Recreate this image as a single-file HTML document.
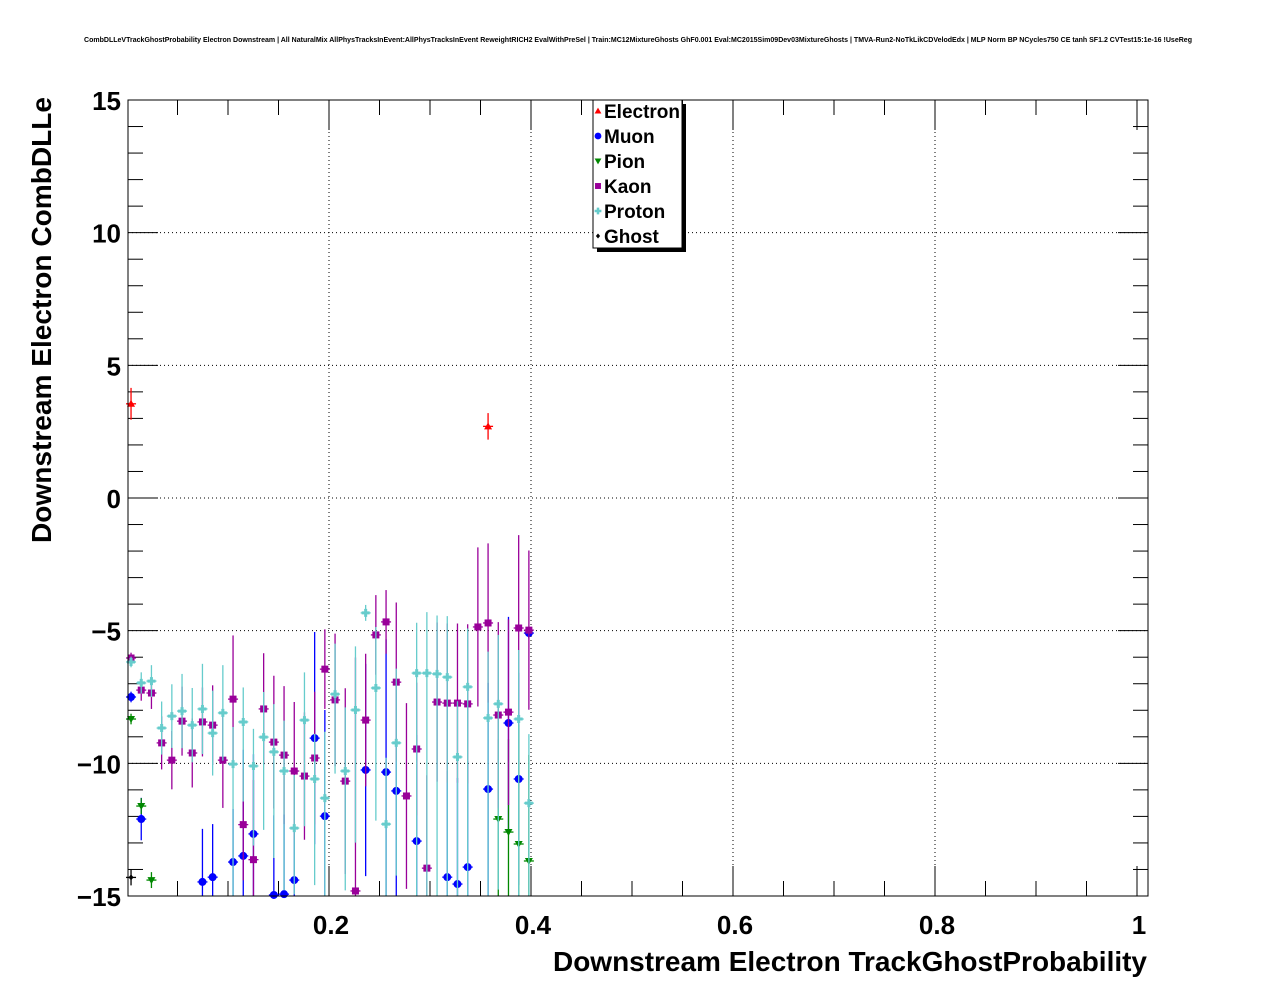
<!DOCTYPE html>
<html><head><meta charset="utf-8"><style>
html,body{margin:0;padding:0;background:#fff}
svg{display:block;font-family:"Liberation Sans",Arial,sans-serif}
</style></head><body>
<svg id="chart" width="1276" height="996" viewBox="0 0 1276 996" xmlns="http://www.w3.org/2000/svg">
<rect width="1276" height="996" fill="#fff"/>
<text x="638" y="42" font-size="7.1" font-weight="bold" text-anchor="middle" textLength="1108" lengthAdjust="spacingAndGlyphs">CombDLLeVTrackGhostProbability Electron Downstream | All NaturalMix AllPhysTracksInEvent:AllPhysTracksInEvent ReweightRICH2 EvalWithPreSel | Train:MC12MixtureGhosts GhF0.001 Eval:MC2015Sim09Dev03MixtureGhosts | TMVA-Run2-NoTkLikCDVelodEdx | MLP Norm BP NCycles750 CE tanh SF1.2 CVTest15:1e-16 !UseReg</text>
<g id="grid"></g>
<g id="axes"></g>
<g id="marks"></g>
<rect x="128" y="100" width="1020" height="796" fill="none" stroke="#000" stroke-width="1"/>
<text transform="translate(51,320) rotate(-90)" font-size="28" font-weight="bold" text-anchor="middle" textLength="446" lengthAdjust="spacingAndGlyphs">Downstream Electron CombDLLe</text>
<text x="1147" y="971" font-size="28" font-weight="bold" text-anchor="end" textLength="594" lengthAdjust="spacingAndGlyphs">Downstream Electron TrackGhostProbability</text>
<g id="legend"></g>
</svg>
<script>
const xTicks=[0.2,0.4,0.6,0.8,1];
const xTickLabels=["0.2","0.4","0.6","0.8","1"];
const yTicks=[-15,-10,-5,0,5,10,15];
const yTickLabels=["\u221215","\u221210","\u22125","0","5","10","15"];
const binCenters=[0.004,0.0141,0.0242,0.0343,0.0444,0.0545,0.0646,0.0747,0.0848,0.0949,0.105,0.1151,0.1252,0.1353,0.1454,0.1555,0.1656,0.1757,0.1858,0.1959,0.206,0.2161,0.2262,0.2363,0.2464,0.2565,0.2666,0.2767,0.2868,0.2969,0.307,0.3171,0.3272,0.3373,0.3474,0.3575,0.3676,0.3777,0.3878,0.3979];
const electronY=[3.55,null,null,null,null,null,null,null,null,null,null,null,null,null,null,null,null,null,null,null,null,null,null,null,null,null,null,null,null,null,null,null,null,null,null,2.7,null,null,null,null];
const electronErr=[0.6,0,0,0,0,0,0,0,0,0,0,0,0,0,0,0,0,0,0,0,0,0,0,0,0,0,0,0,0,0,0,0,0,0,0,0.5,0,0,0,0];
const muonY=[-7.5,-12.1,null,null,null,null,null,-14.47,-14.29,null,-13.72,-13.49,-12.66,null,-14.96,-14.93,-14.4,null,-9.05,-11.99,null,null,null,-10.25,null,-10.33,-11.04,null,-12.93,null,null,-14.29,-14.55,-13.91,null,-10.97,null,-8.48,-10.59,-5.09];
const muonErr=[0.2,0.8,0,0,0,0,0,2,2,0,2,4,3,0,3,3,2,0,4,4,0,0,0,4,0,5,4,0,4,0,0,4,4,4,0,4,0,4,4,0.2];
const pionY=[-8.33,-11.61,-14.4,null,null,null,null,null,null,null,null,null,null,null,null,null,null,null,null,null,null,null,null,null,null,null,null,null,null,null,null,null,null,null,null,null,-12.1,-12.59,-13.04,-13.68];
const pionErr=[0.2,0.3,0.3,0,0,0,0,0,0,0,0,0,0,0,0,0,0,0,0,0,0,0,0,0,0,0,0,0,0,0,0,0,0,0,0,0,3,3.5,4.5,4];
const kaonY=[-6.03,-7.24,-7.35,-9.23,-9.88,-8.41,-9.61,-8.44,-8.56,-9.88,-7.58,-12.31,-13.63,-7.95,-9.2,-9.69,-10.29,-10.48,-9.8,-6.45,-7.61,-10.67,-14.81,-8.37,-5.16,-4.67,-6.94,-11.23,-9.46,-13.95,-7.69,-7.73,-7.73,-7.76,-4.86,-4.71,-8.18,-8.07,-4.9,-4.98];
const kaonErrUp=[0.2,0.4,0.6,1.0,1.1,1.3,1.3,1.3,1.5,1.8,2.4,2.1,3,2.1,2.5,2.6,2.6,2.4,2.5,1.5,2.5,3.5,8.8,2.5,1.5,1.2,3,3.5,2.5,3.5,3,3,3,3,3,3,3.5,3.5,3.5,3];
const kaonErrDown=[0.2,0.4,0.6,1.0,1.1,1.3,1.3,1.3,1.5,1.8,2.4,2.1,3,2.1,2.5,2.6,2.6,2.4,2.5,1.5,2.5,3.5,0.3,2.5,1.5,1.2,3,3.5,2.5,3.5,3,3,3,3,3,3,3.5,3.5,3.5,3];
const protonY=[-6.18,-6.97,-6.9,-8.67,-8.22,-8.03,-8.56,-7.95,-8.86,-8.1,-10.03,-8.44,-10.1,-9.01,-9.57,-10.29,-12.44,-8.37,-10.59,-11.31,-7.39,-10.29,-7.99,-4.33,-7.16,-12.29,-9.23,null,-6.6,-6.6,-6.63,-6.75,-9.76,-7.12,null,-8.29,-7.76,null,-8.33,-11.5];
const protonErrUp=[0.2,0.4,0.6,1.0,1.2,1.4,1.4,1.7,1.6,1.8,1.4,1.3,1.4,1.7,1.8,1.9,2.0,1.8,1.7,2.5,1.9,2.4,2.4,0.3,2.3,2.5,2.8,0,1.9,2.3,2.2,2.3,2.1,2.2,0,2.5,2.6,0,2.6,2.6];
const protonErrDown=[0.2,0.4,0.6,1.0,1.2,1.4,1.4,1.7,1.6,1.8,5,3,3,3.5,4,4.5,2.5,4,4,4,3,4.5,5,0.3,5,3,5,0,9,9,9,9,6,8,0,7,7,0,7,4];
const ghostY=[-14.3,null,null,null,null,null,null,null,null,null,null,null,null,null,null,null,null,null,null,null,null,null,null,null,null,null,null,null,null,null,null,null,null,null,null,null,null,null,null,null];
const ghostErr=[0.3,0,0,0,0,0,0,0,0,0,0,0,0,0,0,0,0,0,0,0,0,0,0,0,0,0,0,0,0,0,0,0,0,0,0,0,0,0,0,0];

const NS="http://www.w3.org/2000/svg";
const L=128,R=1148,T=100,B=896,X0=127,XS=1010;
const xPix=v=>X0+v*XS;
const yPix=v=>T+(15-v)/30*(B-T);
function mk(tag,attrs,parent){const e=document.createElementNS(NS,tag);for(const k in attrs)e.setAttribute(k,attrs[k]);parent.appendChild(e);return e;}
const grid=document.getElementById('grid'),axes=document.getElementById('axes'),marks=document.getElementById('marks'),legend=document.getElementById('legend');
xTicks.forEach((v,i)=>{
  if(v<1){const g=mk('line',{x1:xPix(v),x2:xPix(v),y1:T,y2:B,stroke:'#000','stroke-width':1,'stroke-dasharray':'1,3'},grid);
  
  }
  const t=mk('text',{x:xPix(v)+2,y:934,'font-size':26,'font-weight':'bold','text-anchor':'middle'},axes);
  t.textContent=xTickLabels[i];
  
  
});
yTicks.forEach((v,i)=>{
  if(v>-15&&v<15){const g=mk('line',{x1:L,x2:R,y1:yPix(v),y2:yPix(v),stroke:'#000','stroke-width':1,'stroke-dasharray':'1,3'},grid);
  
  }
  const t=mk('text',{x:121,y:yPix(v)+10,'font-size':26,'font-weight':'bold','text-anchor':'end'},axes);
  t.textContent=yTickLabels[i];
  
  
});
for(let k=1;k<21;k++){const v=k*0.05;const px=xPix(v);if(px>=R)break;const len=(k%4==0)?30:15;
  mk('line',{x1:px,x2:px,y1:B,y2:B-len,stroke:'#000'},axes);mk('line',{x1:px,x2:px,y1:T,y2:T+len,stroke:'#000'},axes);}
for(let v=-15;v<=15;v++){const len=(v%5==0)?30:15;const py=yPix(v);
  mk('line',{x1:L,x2:L+len,y1:py,y2:py,stroke:'#000'},axes);mk('line',{x1:R,x2:R-len,y1:py,y2:py,stroke:'#000'},axes);}
function marker(type,x,y,c,parent,s){s=s||1;
  if(type==='tri')return mk('polygon',{points:`${x-4*s},${y+3*s} ${x+4*s},${y+3*s} ${x},${y-4*s}`,fill:c},parent);
  if(type==='circ')return mk('circle',{cx:x,cy:y,r:4*s,fill:c},parent);
  if(type==='itri')return mk('polygon',{points:`${x-4*s},${y-3*s} ${x+4*s},${y-3*s} ${x},${y+4*s}`,fill:c},parent);
  if(type==='sq')return mk('rect',{x:x-3.5*s,y:y-3.5*s,width:7*s,height:7*s,fill:c},parent);
  if(type==='cross')return mk('path',{d:`M${x-4*s},${y-1.5*s}h${2.5*s}v${-2.5*s}h${3*s}v${2.5*s}h${2.5*s}v${3*s}h${-2.5*s}v${2.5*s}h${-3*s}v${-2.5*s}h${-2.5*s}z`,fill:c},parent);
  if(type==='dia')return mk('polygon',{points:`${x-2.5*s},${y} ${x},${y-3*s} ${x+2.5*s},${y} ${x},${y+3*s}`,fill:c},parent);
}
const series=[
 {name:'electron',label:'Electron',y:electronY,eu:electronErr,ed:electronErr,c:'#ff0000',m:'tri'},
 {name:'muon',label:'Muon',y:muonY,eu:muonErr,ed:muonErr,c:'#0000ff',m:'circ'},
 {name:'pion',label:'Pion',y:pionY,eu:pionErr,ed:pionErr,c:'#008800',m:'itri'},
 {name:'kaon',label:'Kaon',y:kaonY,eu:kaonErrUp,ed:kaonErrDown,c:'#990099',m:'sq'},
 {name:'proton',label:'Proton',y:protonY,eu:protonErrUp,ed:protonErrDown,c:'#66cccc',m:'cross'},
 {name:'ghost',label:'Ghost',y:ghostY,eu:ghostErr,ed:ghostErr,c:'#000000',m:'dia'}];
series.forEach(s=>{
  const g=mk('g',{},marks);
  
  
  s.y.forEach((v,i)=>{if(v===null)return;
    const px=xPix(binCenters[i]),py=yPix(v);
    const y1=Math.max(T,yPix(v+s.eu[i])),y2=Math.min(B,yPix(v-s.ed[i]));
    mk('line',{x1:px,x2:px,y1:y1,y2:y2,stroke:s.c,'stroke-width':1.3},g);
    mk('line',{x1:px-5,x2:px+5,y1:py,y2:py,stroke:s.c,'stroke-width':1.3},g);
    const p=marker(s.m,px,py,s.c,g);
    
    
  });
});
mk('rect',{x:597,y:104,width:89,height:148,fill:'#000'},legend);
mk('rect',{x:593,y:100,width:89,height:148,fill:'#fff',stroke:'#000'},legend);
series.forEach((s,i)=>{
  const yy=111+25*i;
  const g=mk('g',{},legend);
  
  
  marker(s.m,598,yy,s.c,g,0.85);
  const t=mk('text',{x:604,y:yy+7,'font-size':19,'font-weight':'bold'},g);
  t.textContent=s.label;
});
</script>
</body></html>
